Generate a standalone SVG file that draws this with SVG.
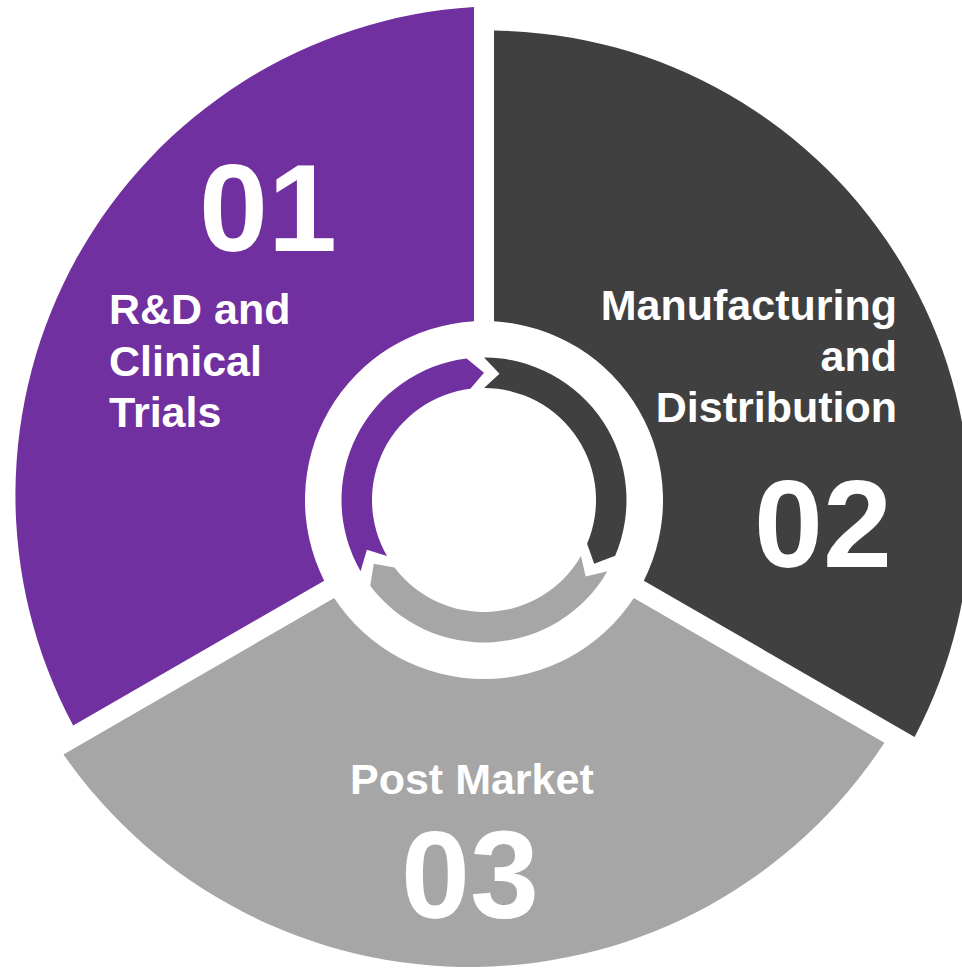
<svg xmlns="http://www.w3.org/2000/svg" width="962" height="969" viewBox="0 0 962 969">
  <style>
    .purple { fill: #7030A0; }
    .dark { fill: #404040; }
    .gray { fill: #A6A6A6; }
    .label { font-family: "Liberation Sans", Arial, sans-serif; font-weight: bold; fill: #FFFFFF; font-size: 43px; }
    .num { font-family: "Liberation Sans", Arial, sans-serif; font-weight: bold; fill: #FFFFFF; font-size: 124px; }
  </style>
  <rect x="0" y="0" width="962" height="969" fill="#FFFFFF"/>

  <g id="node-rd">
    <path class="purple" d="M 474 321.3 L 474 7 A 489 489 0 0 0 73.2 725.6 L 324.2 580.7 A 179 179 0 0 1 474 321.3 Z"/>
    <text class="num" x="199" y="251">01</text>
    <text class="label" x="109" y="324">R&amp;D and</text>
    <text class="label" x="109" y="376">Clinical</text>
    <text class="label" x="109" y="427">Trials</text>
  </g>

  <g id="node-manufacturing">
    <path class="dark" d="M 494 321.3 L 494 30.6 A 481.4 481.4 0 0 1 914.6 737 L 643.8 580.7 A 179 179 0 0 0 494 321.3 Z"/>
    <text class="label" x="897" y="320" text-anchor="end">Manufacturing</text>
    <text class="label" x="897" y="371" text-anchor="end">and</text>
    <text class="label" x="897" y="422" text-anchor="end">Distribution</text>
    <text class="num" x="754" y="567">02</text>
  </g>

  <g id="node-postmarket">
    <path class="gray" d="M 633.8 598 L 884.4 742.7 A 495 495 0 0 1 63.45 754.4 L 334.2 598 A 179 179 0 0 0 633.8 598 Z"/>
    <text class="label" x="350" y="794">Post Market</text>
    <text class="num" x="401" y="918">03</text>
  </g>

  <g id="connectors">
    <path class="purple" d="M 360.59 571.25 A 142.5 142.5 0 0 1 466.63 358.56 L 484 372.75 L 470.35 388.83 A 112 112 0 0 0 387.01 556 L 366.87 549.72 Z"/>
    <path class="dark" d="M 484 357.5 A 142.5 142.5 0 0 1 615.17 555.68 L 594.2 563.63 L 587.1 543.76 A 112 112 0 0 0 484 388 L 499.51 373.7 Z"/>
    <path class="gray" d="M 607.41 571.25 A 142.5 142.5 0 0 1 370.19 585.76 L 373.8 563.63 L 394.55 567.4 A 112 112 0 0 0 580.99 556 L 585.63 576.58 Z"/>
  </g>
</svg>
